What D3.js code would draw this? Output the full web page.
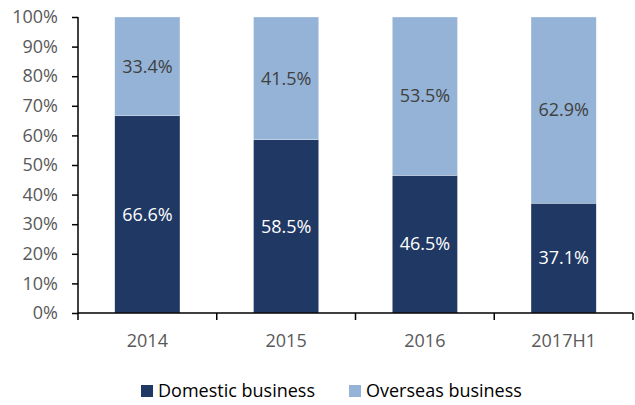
<!DOCTYPE html>
<html>
<head>
<meta charset="utf-8">
<script src="https://cdn.jsdelivr.net/npm/d3@7"></script>
<style>
  body { margin: 0; background: #fff; }
  svg text { font-family: "Open Sans", "Noto Sans", sans-serif; }
</style>
</head>
<body>
<div id="chart"></div>
<script>
var categories = ["2014", "2015", "2016", "2017H1"];
var domestic = [66.6, 58.5, 46.5, 37.1];
var overseas = [33.4, 41.5, 53.5, 62.9];
var seriesNames = ["Domestic business", "Overseas business"];
var yTicks = [0, 10, 20, 30, 40, 50, 60, 70, 80, 90, 100];

var colors = ["#203864", "#95b3d7"];

var width = 635, height = 405;
var margin = {top: 17, right: 2, bottom: 92, left: 78};
var plotW = width - margin.left - margin.right;
var plotH = height - margin.top - margin.bottom;

var svg = d3.select("#chart").append("svg")
  .attr("width", width)
  .attr("height", height);

var g = svg.append("g")
  .attr("transform", "translate(" + margin.left + "," + margin.top + ")");

var x = d3.scaleBand()
  .domain(categories)
  .range([0, plotW])
  .paddingInner(0.53)
  .paddingOuter(0.265);

var y = d3.scaleLinear()
  .domain([0, 100])
  .range([plotH, 0]);

var rows = categories.map(function(c, i) {
  return {cat: c, domestic: domestic[i], overseas: overseas[i]};
});

var stack = d3.stack().keys(["domestic", "overseas"]);
var layers = stack(rows);

var layerG = g.selectAll("g.layer")
  .data(layers)
  .enter().append("g")
  .attr("class", "layer")
  .attr("fill", function(d, i) { return colors[i]; });

layerG.selectAll("rect")
  .data(function(d) { return d; })
  .enter().append("rect")
  .attr("x", function(d) { return x(d.data.cat); })
  .attr("y", function(d) { return y(d[1]); })
  .attr("width", x.bandwidth())
  .attr("height", function(d) { return y(d[0]) - y(d[1]); })
  .attr("stroke", "#ffffff")
  .attr("stroke-width", 0.3);

layerG.selectAll("text")
  .data(function(d) { return d.map(function(p) { return {p: p, key: d.key}; }); })
  .enter().append("text")
  .attr("x", function(d) { return x(d.p.data.cat) + x.bandwidth() / 2; })
  .attr("y", function(d) { return y((d.p[0] + d.p[1]) / 2); })
  .attr("dy", "0.35em")
  .attr("text-anchor", "middle")
  .attr("font-size", 18)
  .attr("fill", function(d) { return d.key == "domestic" ? "#ffffff" : "#404040"; })
  .text(function(d) { return d.p.data[d.key].toFixed(1) + "%"; });

// y axis
var yAxis = g.append("g")
  .call(d3.axisLeft(y).tickValues(yTicks).tickSize(6).tickFormat(function(d) { return d + "%"; }));
yAxis.select(".domain").attr("stroke", "#000").attr("stroke-width", 1.5).attr("d", "M0,0V" + plotH);
yAxis.selectAll(".tick line").attr("stroke", "#000").attr("stroke-width", 1.5);
yAxis.selectAll(".tick text")
  .attr("font-size", 18)
  .attr("fill", "#595959")
  .attr("x", -20)
  .style("font-family", "'Open Sans', 'Noto Sans', sans-serif");

// x axis with ticks between categories
var xAxis = g.append("g")
  .attr("transform", "translate(0," + plotH + ")");
xAxis.append("line")
  .attr("x1", 0).attr("x2", plotW)
  .attr("y1", 0).attr("y2", 0)
  .attr("stroke", "#000").attr("stroke-width", 1.5);
var step = x.step();
var boundaries = d3.range(categories.length + 1).map(function(i) { return x(categories[0]) - x.paddingOuter() * step + i * step; });
xAxis.selectAll("line.sep")
  .data(boundaries)
  .enter().append("line")
  .attr("class", "sep")
  .attr("x1", function(d) { return d; }).attr("x2", function(d) { return d; })
  .attr("y1", 0).attr("y2", 7)
  .attr("stroke", "#000").attr("stroke-width", 1.5);
xAxis.selectAll("text")
  .data(categories)
  .enter().append("text")
  .attr("x", function(d) { return x(d) + x.bandwidth() / 2; })
  .attr("y", 34)
  .attr("text-anchor", "middle")
  .attr("font-size", 18)
  .attr("fill", "#595959")
  .text(function(d) { return d; });

// legend
var legendX = [141, 349];
var legend = svg.append("g");
var items = legend.selectAll("g")
  .data(seriesNames)
  .enter().append("g")
  .attr("transform", function(d, i) { return "translate(" + legendX[i] + "," + 385 + ")"; });
items.append("rect")
  .attr("width", 12).attr("height", 12)
  .attr("fill", function(d, i) { return colors[i]; });
items.append("text")
  .attr("x", 17)
  .attr("y", 12)
  .attr("font-size", 18)
  .attr("fill", "#000")
  .text(function(d) { return d; });
</script>
</body>
</html>
